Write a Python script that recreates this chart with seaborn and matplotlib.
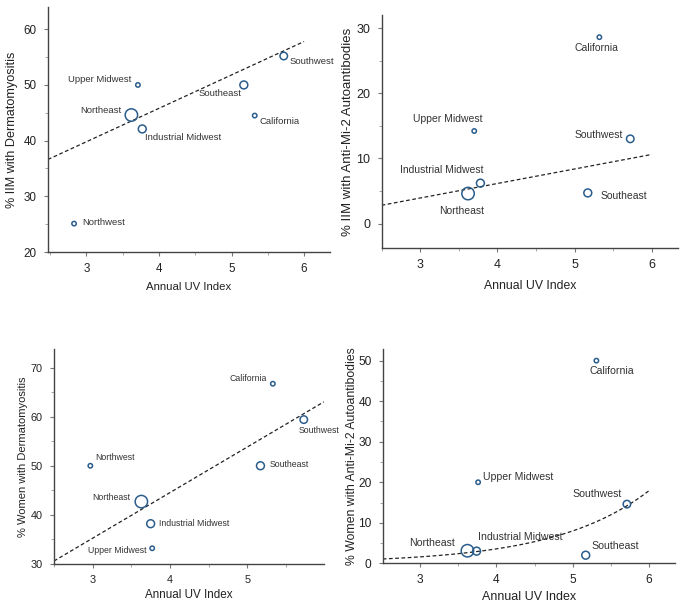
import numpy as np
import pandas as pd
import matplotlib
matplotlib.use("Agg")
import matplotlib.pyplot as plt
import seaborn as sns
from matplotlib import font_manager
from matplotlib.ticker import MultipleLocator

# ---------------- data ----------------
# Panel A: % IIM with dermatomyositis
a_regions = ["Northwest", "Upper Midwest", "Northeast", "Industrial Midwest",
             "Southeast", "California", "Southwest"]
a_uv = [2.83, 3.71, 3.62, 3.77, 5.17, 5.32, 5.72]
a_val = [25.1, 50.0, 44.6, 42.1, 50.0, 44.5, 55.2]

# Panel B: % IIM with anti-Mi-2 autoantibodies
b_regions = ["California", "Upper Midwest", "Southwest", "Industrial Midwest",
             "Northeast", "Southeast"]
b_uv = [5.32, 3.70, 5.72, 3.78, 3.62, 5.17]
b_val = [28.6, 14.2, 13.0, 6.2, 4.6, 4.7]

# Panel C: % women with dermatomyositis
c_regions = ["California", "Southwest", "Northwest", "Southeast", "Northeast",
             "Industrial Midwest", "Upper Midwest"]
c_uv = [5.33, 5.73, 2.97, 5.17, 3.63, 3.75, 3.77]
c_val = [66.7, 59.4, 50.0, 50.0, 42.7, 38.2, 33.2]

# Panel D: % women with anti-Mi-2 autoantibodies
d_regions = ["California", "Upper Midwest", "Southwest", "Northeast",
             "Industrial Midwest", "Southeast"]
d_uv = [5.31, 3.76, 5.71, 3.62, 3.74, 5.17]
d_val = [50.0, 20.0, 14.6, 3.1, 3.0, 2.0]

# relative sample size per region (marker size)
region_n = {"Northeast": 120, "Industrial Midwest": 45, "Southeast": 45,
            "Southwest": 40, "Upper Midwest": 10, "California": 10, "Northwest": 10}

# trend lines
a_trend = (21.8, 6.0)        # intercept, slope
b_trend = (-2.77, 2.229)
c_trend = (7.39, 9.286)
d_trend = (0.1406, 0.808)    # a * exp(b * x)

# ---------------- style ----------------
sns.set_theme(style="ticks")
plt.rcParams['font.family'] = ['Liberation Sans', 'DejaVu Sans']

names = {f.name for f in font_manager.fontManager.ttflist}
NARROW = ['Liberation Sans Narrow', 'Liberation Sans', 'DejaVu Sans'] \
    if 'Liberation Sans Narrow' in names else ['Liberation Sans', 'DejaVu Sans']
narrow_scale = 1.0 if 'Liberation Sans Narrow' in names else 0.85

fig = plt.figure(figsize=(6.85, 6.08), dpi=100)

edge = "#2b5d8c"
txtc = "#333333"

def style_axes(ax, tick_fs):
    for s in ["top", "right"]:
        ax.spines[s].set_visible(False)
    for s in ["left", "bottom"]:
        ax.spines[s].set_color("#444444")
        ax.spines[s].set_linewidth(1.0)
    ax.tick_params(which="major", length=3, width=0.8, color="#777777",
                   labelsize=tick_fs, labelcolor="#222222", pad=5)
    ax.tick_params(which="minor", length=2, width=0.6, color="#999999")
    ax.grid(False)

def panel(rect, regions, uv, val, xlim, ylim, ylabel, tick_fs, xlab_fs, ylab_fs,
          pt_fs, offsets, trend, xlab_pos, ylab_pos, kind="lin", xmax_line=6.0):
    ax = fig.add_axes(rect)
    df = pd.DataFrame({"uv": uv, "val": val, "region": regions,
                       "n": [region_n[r] for r in regions]})
    sns.scatterplot(data=df, x="uv", y="val", size="n", sizes=(10, 80),
                    size_norm=(10, 120), facecolor="none", edgecolor=edge,
                    linewidth=1.1, legend=False, ax=ax, zorder=3)
    xs = np.linspace(xlim[0], xmax_line, 200)
    if kind == "lin":
        ys = trend[0] + trend[1] * xs
    else:
        ys = trend[0] * np.exp(trend[1] * xs)
    line_df = pd.DataFrame({"x": xs, "y": ys})
    sns.lineplot(data=line_df, x="x", y="y", ax=ax, color="#222222",
                 linewidth=0.9, linestyle=(0, (3, 2)), zorder=2)
    for r, x, y in zip(regions, uv, val):
        dx, dy, ha = offsets[r]
        ax.annotate(r, (x, y), xytext=(dx, dy), textcoords="offset pixels",
                    ha=ha, va="center", fontsize=pt_fs * narrow_scale,
                    color=txtc, family=NARROW)
    ax.set_xlim(*xlim)
    ax.set_ylim(*ylim)
    ax.xaxis.set_major_locator(MultipleLocator(1))
    ax.xaxis.set_minor_locator(MultipleLocator(0.5))
    ax.yaxis.set_major_locator(MultipleLocator(10))
    ax.yaxis.set_minor_locator(MultipleLocator(5))
    ax.set_xlabel("Annual UV Index", fontsize=xlab_fs * narrow_scale,
                  color="#222222", family=NARROW)
    ax.set_ylabel(ylabel, fontsize=ylab_fs, color="#222222")
    ax.xaxis.label.set_verticalalignment("center")
    ax.yaxis.label.set_verticalalignment("center")
    ax.xaxis.set_label_coords(0.5, xlab_pos)
    ax.yaxis.set_label_coords(ylab_pos, 0.5)
    style_axes(ax, tick_fs)
    return ax

a_off = {"Northwest": (8, 1, "left"), "Upper Midwest": (-7, 5, "right"),
         "Northeast": (-10, 5, "right"), "Industrial Midwest": (3, -9, "left"),
         "Southeast": (-2, -9, "right"), "California": (5, -6, "left"),
         "Southwest": (6, -6, "left")}
b_off = {"California": (-3, -11, "center"), "Upper Midwest": (8, 12, "right"),
         "Southwest": (-7, 4, "right"), "Industrial Midwest": (3, 13, "right"),
         "Northeast": (-6, -17, "center"), "Southeast": (13, -3, "left")}
c_off = {"California": (-6, 5, "right"), "Southwest": (-5, -11, "left"),
         "Northwest": (5, 8, "left"), "Southeast": (9, 1, "left"),
         "Northeast": (-11, 4, "right"), "Industrial Midwest": (8, 0, "left"),
         "Upper Midwest": (-6, -2, "right")}
d_off = {"California": (-7, -10, "left"), "Upper Midwest": (5, 5, "left"),
         "Southwest": (-5, 10, "right"), "Northeast": (-13, 8, "right"),
         "Industrial Midwest": (1, 14, "left"), "Southeast": (6, 9, "left")}

panel([0.070, 0.5855, 0.412, 0.403], a_regions, a_uv, a_val, (2.47, 6.36), (20, 64),
      "% IIM with Dermatomyositis", 8.4, 9.6, 9.1, 8.0, a_off, a_trend,
      -0.142, -0.128)
panel([0.557, 0.5916, 0.433, 0.3837], b_regions, b_uv, b_val, (2.50, 6.34), (-3.8, 32),
      "% IIM with Anti-Mi-2 Autoantibodies", 9.0, 10.4, 9.5, 8.8, b_off, b_trend,
      -0.162, -0.114)
panel([0.0788, 0.0724, 0.394, 0.353], c_regions, c_uv, c_val, (2.50, 5.99), (30, 73.7),
      "% Women with Dermatomyositis", 7.8, 9.8, 8.0, 7.4, c_off, c_trend,
      -0.144, -0.115, xmax_line=5.99)
panel([0.5587, 0.0735, 0.4267, 0.352], d_regions, d_uv, d_val, (2.51, 6.34), (0, 52.8),
      "% Women with Anti-Mi-2 Autoantibodies", 8.6, 10.6, 8.8, 8.9, d_off, d_trend,
      -0.156, -0.105, kind="exp")

fig.savefig("out.png", dpi=100, facecolor="white")
